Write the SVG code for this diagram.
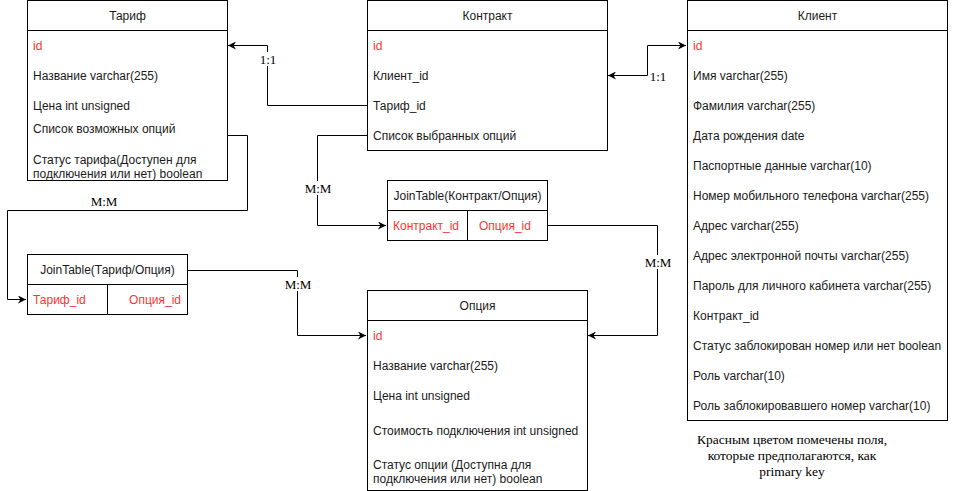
<svg xmlns="http://www.w3.org/2000/svg" width="958" height="491" viewBox="0 0 958 491">
<style>
.box{fill:#fff;stroke:#000;stroke-width:1}
.ln{stroke:#000;stroke-width:1;fill:none}
.t{font-family:"Liberation Sans",Arial,sans-serif;font-size:12px;fill:#1a1a1a}
.c{text-anchor:middle}
.r{fill:#ff3333}
.lbl{font-family:"Liberation Serif","Times New Roman",serif;font-size:13px;fill:#000;text-anchor:middle}
.note{font-family:"Liberation Serif","Times New Roman",serif;font-size:13.5px;fill:#000;text-anchor:middle}
.edge{stroke:#000;stroke-width:1;fill:none}
</style>
<defs>
<marker id="arr" viewBox="0 0 10 10" refX="10" refY="5" markerWidth="8" markerHeight="8" markerUnits="userSpaceOnUse" orient="auto">
<path d="M0,0 L10,5 L0,10 L3,5 Z" fill="#000"/>
</marker>
<marker id="arrs" viewBox="0 0 10 10" refX="0" refY="5" markerWidth="8" markerHeight="8" markerUnits="userSpaceOnUse" orient="auto">
<path d="M10,0 L0,5 L10,10 L7,5 Z" fill="#000"/>
</marker>
</defs>

<g id="connectors">
<path class="edge" d="M367.5,105.5 H267.5 V45.5 H228" marker-end="url(#arr)"/>
<rect x="257" y="52" width="22" height="14" fill="#fff"/>
<text class="lbl" x="268" y="64">1:1</text>

<path class="edge" d="M608,75.5 H647.5 V45.5 H686" marker-start="url(#arrs)" marker-end="url(#arr)"/>
<text class="lbl" x="658" y="81">1:1</text>

<path class="edge" d="M227.5,135.5 H247.5 V210.5 H7.5 V299.5 H26" marker-end="url(#arr)"/>
<text class="lbl" x="104" y="206">M:M</text>

<path class="edge" d="M367.5,135.5 H317.5 V225.5 H386" marker-end="url(#arr)"/>
<rect x="302" y="181" width="31" height="14" fill="#fff"/>
<text class="lbl" x="318" y="193">M:M</text>

<path class="edge" d="M187.5,270.5 H297.5 V335.5 H366" marker-end="url(#arr)"/>
<rect x="282" y="277" width="31" height="14" fill="#fff"/>
<text class="lbl" x="298" y="289">M:M</text>

<path class="edge" d="M547.5,225.5 H657.5 V335.5 H588" marker-end="url(#arr)"/>
<rect x="642" y="255" width="31" height="14" fill="#fff"/>
<text class="lbl" x="658" y="267">M:M</text>
</g>

<g id="tarif">
<rect class="box" x="27.5" y="0.5" width="200" height="180"/>
<line class="ln" x1="27.5" y1="30.5" x2="227.5" y2="30.5"/>
<text class="t c" x="127.5" y="20">Тариф</text>
<text class="t r" x="33" y="50">id</text>
<text class="t" x="33" y="80">Название varchar(255)</text>
<text class="t" x="33" y="110">Цена int unsigned</text>
<text class="t" x="33" y="133">Список возможных опций</text>
<text class="t" x="33" y="164">Статус тарифа(Доступен для</text>
<text class="t" x="33" y="178">подключения или нет) boolean</text>
</g>

<g id="kontrakt">
<rect class="box" x="367.5" y="0.5" width="240" height="150"/>
<line class="ln" x1="367.5" y1="30.5" x2="607.5" y2="30.5"/>
<text class="t c" x="487.5" y="20">Контракт</text>
<text class="t r" x="373" y="50">id</text>
<text class="t" x="373" y="80">Клиент_id</text>
<text class="t" x="373" y="110">Тариф_id</text>
<text class="t" x="373" y="140">Список выбранных опций</text>
</g>

<g id="klient">
<rect class="box" x="687.5" y="0.5" width="260" height="420"/>
<line class="ln" x1="687.5" y1="30.5" x2="947.5" y2="30.5"/>
<text class="t c" x="817.5" y="20">Клиент</text>
<text class="t r" x="693" y="50">id</text>
<text class="t" x="693" y="80">Имя varchar(255)</text>
<text class="t" x="693" y="110">Фамилия varchar(255)</text>
<text class="t" x="693" y="140">Дата рождения date</text>
<text class="t" x="693" y="170">Паспортные данные varchar(10)</text>
<text class="t" x="693" y="200">Номер мобильного телефона varchar(255)</text>
<text class="t" x="693" y="230">Адрес varchar(255)</text>
<text class="t" x="693" y="260">Адрес электронной почты varchar(255)</text>
<text class="t" x="693" y="290">Пароль для личного кабинета varchar(255)</text>
<text class="t" x="693" y="320">Контракт_id</text>
<text class="t" x="693" y="350">Статус заблокирован номер или нет boolean</text>
<text class="t" x="693" y="380">Роль varchar(10)</text>
<text class="t" x="693" y="410">Роль заблокировавшего номер varchar(10)</text>
</g>

<g id="join-kontrakt-opciya">
<rect class="box" x="387.5" y="180.5" width="160" height="60"/>
<line class="ln" x1="387.5" y1="210.5" x2="547.5" y2="210.5"/>
<line class="ln" x1="467.5" y1="210.5" x2="467.5" y2="240.5"/>
<text class="t c" x="467.5" y="200">JoinTable(Контракт/Опция)</text>
<text class="t r" x="393" y="230">Контракт_id</text>
<text class="t r" x="479" y="230">Опция_id</text>
</g>

<g id="join-tarif-opciya">
<rect class="box" x="27.5" y="254.5" width="160" height="60"/>
<line class="ln" x1="27.5" y1="284.5" x2="187.5" y2="284.5"/>
<line class="ln" x1="107.5" y1="284.5" x2="107.5" y2="314.5"/>
<text class="t c" x="107.5" y="274">JoinTable(Тариф/Опция)</text>
<text class="t r" x="33" y="304">Тариф_id</text>
<text class="t r" x="181" y="304" text-anchor="end">Опция_id</text>
</g>

<g id="opciya">
<rect class="box" x="367.5" y="290.5" width="220" height="200"/>
<line class="ln" x1="367.5" y1="320.5" x2="587.5" y2="320.5"/>
<text class="t c" x="477.5" y="310">Опция</text>
<text class="t r" x="373" y="340">id</text>
<text class="t" x="373" y="370">Название varchar(255)</text>
<text class="t" x="373" y="400">Цена int unsigned</text>
<text class="t" x="373" y="435">Стоимость подключения int unsigned</text>
<text class="t" x="373" y="469">Статус опции (Доступна для</text>
<text class="t" x="373" y="483">подключения или нет) boolean</text>
</g>

<g id="note">
<text class="note" x="792" y="444">Красным цветом помечены поля,</text>
<text class="note" x="792" y="460">которые предполагаются, как</text>
<text class="note" x="792" y="476">primary key</text>
</g>
</svg>
